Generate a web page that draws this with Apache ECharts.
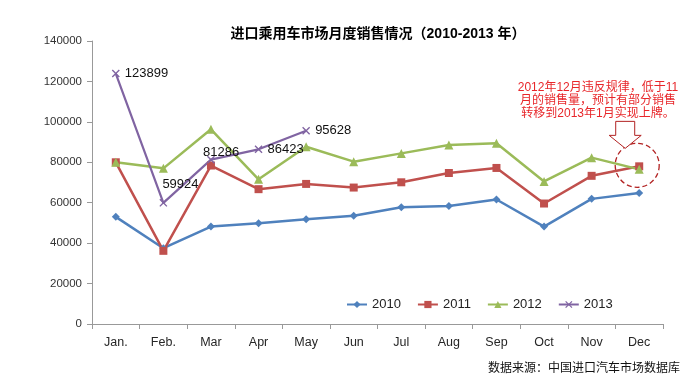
<!DOCTYPE html>
<html>
<head>
<meta charset="utf-8">
<script src="https://cdn.jsdelivr.net/npm/echarts@6/dist/echarts.min.js"></script>
<style>
html,body{margin:0;padding:0;background:#fff;}
#c{width:688px;height:381px;}
</style>
</head>
<body>
<div id="c"></div>
<script>
var categories = ['Jan.', 'Feb.', 'Mar', 'Apr', 'May', 'Jun', 'Jul', 'Aug', 'Sep', 'Oct', 'Nov', 'Dec'];
var s2010 = [53000, 37500, 48200, 49900, 51800, 53500, 57800, 58400, 61600, 48200, 61900, 64800];
var s2011 = [80000, 36200, 78400, 66700, 69300, 67500, 70100, 74700, 77200, 59600, 73300, 78000];
var s2012 = [80000, 77000, 96300, 71600, 87700, 80300, 84400, 88600, 89400, 70500, 82300, 76500];
var s2013 = [123899, 59924, 81286, 86423, 95628];
var yTicks = [0, 20000, 40000, 60000, 80000, 100000, 120000, 140000];
var seriesNames = ['2010', '2011', '2012', '2013'];
var titleText = '进口乘用车市场月度销售情况（2010-2013 年）';
var noteLines = ['2012年12月违反规律，低于11', '月的销售量，预计有部分销售', '转移到2013年1月实现上牌。'];
var sourceText = '数据来源：中国进口汽车市场数据库';

var FONT = '"Liberation Sans", Arial, "Noto Sans CJK SC", sans-serif';
var colors = ['#4F81BD', '#C0504D', '#9BBB59', '#8064A2'];
var xPath = 'path://M0,1.2 L1.2,0 L5,3.8 L8.8,0 L10,1.2 L6.2,5 L10,8.8 L8.8,10 L5,6.2 L1.2,10 L0,8.8 L3.8,5 Z';

var chart = echarts.init(document.getElementById('c'), null, {renderer: 'canvas'});

var labelOffsets = [[0, 0], [-10, -18], [-17, -7], [0, 0], [0, 0]];
var data2013 = s2013.map(function (v, i) {
  return {value: v, label: {offset: labelOffsets[i]}};
});

var option = {
  animation: false,
  backgroundColor: '#ffffff',
  textStyle: {fontFamily: FONT},
  title: {
    text: titleText,
    left: 373,
    textAlign: 'center',
    top: 22,
    textStyle: {fontSize: 14, fontWeight: 'bold', color: '#000', fontFamily: FONT}
  },
  grid: {left: 92, right: 25, top: 41, bottom: 57, containLabel: false},
  legend: {
    data: seriesNames,
    left: 341,
    top: 293,
    itemWidth: 20,
    itemHeight: 9,
    itemGap: 16,
    textStyle: {fontSize: 13, color: '#222', fontFamily: FONT}
  },
  xAxis: {
    type: 'category',
    data: categories,
    boundaryGap: true,
    axisLine: {lineStyle: {color: '#999', width: 1}},
    axisTick: {show: true, length: 5, lineStyle: {color: '#999'}},
    axisLabel: {fontSize: 12.5, color: '#262626', margin: 12, fontFamily: FONT},
    splitLine: {show: false}
  },
  yAxis: {
    type: 'value',
    min: yTicks[0],
    max: yTicks[yTicks.length - 1],
    interval: yTicks[1] - yTicks[0],
    axisLine: {show: true, lineStyle: {color: '#999', width: 1}},
    axisTick: {show: true, length: 5, inside: false, lineStyle: {color: '#999'}},
    axisLabel: {fontSize: 11.5, color: '#333', margin: 10, fontFamily: FONT,
      formatter: function (v) { return String(v); }},
    splitLine: {show: false}
  },
  series: [
    {
      name: seriesNames[0], type: 'line', data: s2010,
      symbol: 'diamond', symbolSize: 8,
      lineStyle: {color: colors[0], width: 2.5},
      itemStyle: {color: colors[0]}
    },
    {
      name: seriesNames[1], type: 'line', data: s2011,
      symbol: 'rect', symbolSize: 8,
      lineStyle: {color: colors[1], width: 2.5},
      itemStyle: {color: colors[1]}
    },
    {
      name: seriesNames[2], type: 'line', data: s2012,
      symbol: 'triangle', symbolSize: 9,
      lineStyle: {color: colors[2], width: 2.5},
      itemStyle: {color: colors[2]}
    },
    {
      name: seriesNames[3], type: 'line', data: data2013,
      symbol: xPath, symbolSize: 8,
      lineStyle: {color: colors[3], width: 2.2},
      itemStyle: {color: colors[3]},
      label: {
        show: true, position: 'right', distance: 5,
        fontSize: 13, color: '#111', fontFamily: FONT
      }
    }
  ]
};
chart.setOption(option);

// Annotation anchored to 2012 December point
var p = chart.convertToPixel({seriesIndex: 2}, [11, s2012[11]]);
var cx = p[0] - 2, cy = p[1] - 4;
var ax = p[0] - 14; // arrow center x
var graphics = [
  {
    type: 'circle',
    shape: {cx: cx, cy: cy, r: 22},
    style: {fill: 'none', stroke: '#B22222', lineWidth: 1.3, lineDash: [5, 3]},
    z: 100
  },
  {
    type: 'polygon',
    shape: {points: [
      [ax - 9.5, cy - 44], [ax + 9.5, cy - 44], [ax + 9.5, cy - 30],
      [ax + 16, cy - 30], [ax, cy - 17], [ax - 16, cy - 30], [ax - 9.5, cy - 30]
    ]},
    style: {fill: '#fff', stroke: '#B22222', lineWidth: 1},
    z: 100
  },
  {
    type: 'text',
    x: 680, y: 369,
    style: {text: sourceText, fill: '#111', font: '12px ' + FONT, align: 'right', verticalAlign: 'middle'},
    z: 100
  }
];
noteLines.forEach(function (t, i) {
  graphics.push({
    type: 'text',
    x: 598, y: 88 + i * 13,
    style: {text: t, fill: '#E8262A', font: '12px ' + FONT, align: 'center', verticalAlign: 'middle'},
    z: 100
  });
});
chart.setOption({graphic: graphics});
</script>
</body>
</html>
